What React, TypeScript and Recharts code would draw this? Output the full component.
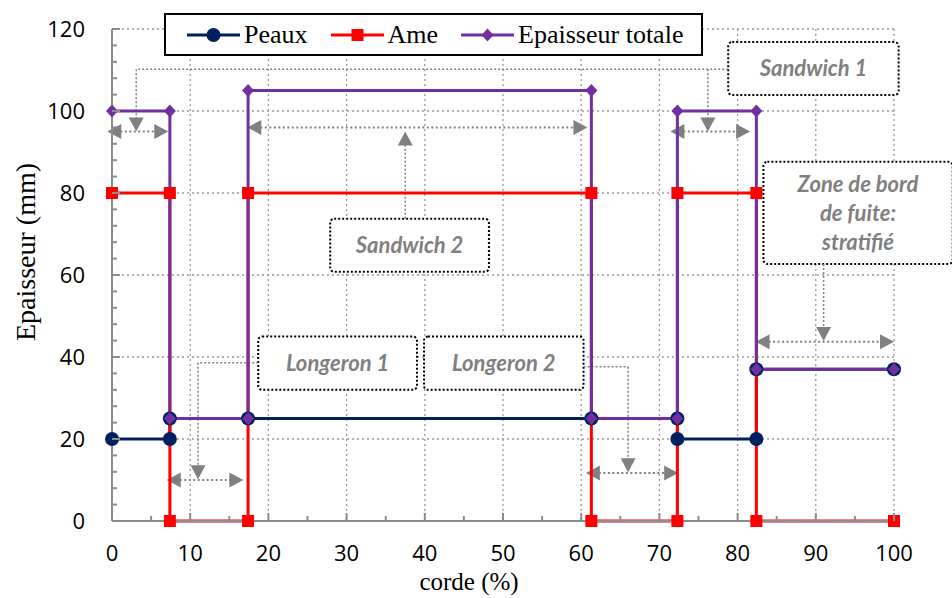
import React from 'react';
import {
  ComposedChart,
  Line,
  XAxis,
  YAxis,
  CartesianGrid,
  Legend,
  ReferenceArea,
  ReferenceLine,
} from 'recharts';

// --- data (corde %, epaisseur mm) ---
const peauxX = [0, 7.4, 7.4, 17.4, 61.3, 72.3, 72.3, 82.4, 82.4, 100];
const peauxY = [20, 20, 25, 25, 25, 25, 20, 20, 37, 37];

const ameX = [0, 7.4, 7.4, 17.4, 17.4, 61.3, 61.3, 72.3, 72.3, 82.4, 82.4, 100];
const ameY = [80, 80, 0, 0, 80, 80, 0, 0, 80, 80, 0, 0];

const totalX = [0, 7.4, 7.4, 17.4, 17.4, 61.3, 61.3, 72.3, 72.3, 82.4, 82.4, 100];
const totalY = [100, 100, 25, 25, 105, 105, 25, 25, 100, 100, 37, 37];

const xTicks = [0, 5, 10, 15, 20, 25, 30, 35, 40, 45, 50, 55, 60, 65, 70, 75, 80, 85, 90, 95, 100];
const yTicks = [0, 4, 8, 12, 16, 20, 24, 28, 32, 36, 40, 44, 48, 52, 56, 60, 64, 68, 72, 76, 80, 84, 88, 92, 96, 100, 104, 108, 112, 116, 120];
const xGrid = [0, 10, 20, 30, 40, 50, 60, 70, 80, 90, 100];
const yGrid = [0, 20, 40, 60, 80, 100, 120];

// annotation boxes (data coords)
const boxLabels = [['Sandwich 1'], ['Sandwich 2'], ['Longeron 1'], ['Longeron 2'], ['Zone de bord', 'de fuite:', 'stratifié']];
const boxX1 = [78.8, 27.9, 18.7, 39.9, 83.3];
const boxX2 = [100.6, 48.2, 39.0, 60.3, 107.5];
const boxYTop = [116.8, 73.7, 45.0, 45.0, 87.6];
const boxYBottom = [103.9, 60.8, 32.0, 32.0, 62.7];

// double arrows marking each zone
const spanX1 = [-0.6, 71.4, 17.3, 7.0, 60.6, 82.3];
const spanX2 = [7.2, 81.6, 60.8, 16.8, 72.4, 100];
const spanY = [95, 95, 96, 10, 11.7, 43.7];

// leader lines from boxes to arrows: [x1, y1, x2, y2, arrowhead]
const leaders: [number, number, number, number, boolean][] = [
  [78.8, 110.2, 3.1, 110.2, false],
  [3.1, 110.2, 3.1, 95, true],
  [76.2, 110.2, 76.2, 95, true],
  [37.5, 73.7, 37.5, 95, true],
  [18.7, 38.6, 11.0, 38.6, false],
  [11.0, 38.6, 11.0, 10.2, true],
  [60.3, 37.6, 66.0, 37.6, false],
  [66.0, 37.6, 66.0, 11.9, true],
  [91.0, 62.7, 91.0, 43.9, true],
];

const NAVY = '#002060';
const RED = '#FF0000';
const PURPLE = '#7030A0';
const AXIS = '#8c8c8c';
const ANNOT = '#808080';
const SERIF = '"Liberation Serif", "Times New Roman", serif';
const SANS = '"Open Sans", sans-serif';
const NOTE_FONT = 'Lato, "Open Sans", sans-serif';

const toPoints = (xs: number[], ys: number[]) => xs.map((x, i) => ({ x, y: ys[i] }));
const peauxData = toPoints(peauxX, peauxY);
const ameData = toPoints(ameX, ameY);
const totalData = toPoints(totalX, totalY);

const series = [
  { name: 'Peaux', color: NAVY, marker: 'circle' },
  { name: 'Ame', color: RED, marker: 'square' },
  { name: 'Epaisseur totale', color: PURPLE, marker: 'diamond' },
];

const marker = (kind: string, cx: number, cy: number, color: string, key?: string) => {
  if (kind === 'circle') return <circle key={key} cx={cx} cy={cy} r={7} fill={color} />;
  if (kind === 'square') return <rect key={key} x={cx - 6} y={cy - 6} width={12} height={12} fill={color} />;
  return (
    <polygon
      key={key}
      points={`${cx},${cy - 6.5} ${cx + 6},${cy} ${cx},${cy + 6.5} ${cx - 6},${cy}`}
      fill={color}
    />
  );
};

const dotFor = (kind: string, color: string) => (p: any) => {
  if (p.cx == null || p.cy == null) return <g key={`e-${p.index}`} />;
  return marker(kind, p.cx, p.cy, color, `${kind}-${p.index}`);
};

const XTick = (p: any) => {
  const v = p.payload.value;
  const major = v % 10 === 0;
  return (
    <g>
      <line x1={p.x} x2={p.x} y1={p.y} y2={p.y - (major ? 8 : 5)} stroke={AXIS} strokeWidth={2} />
      {major && (
        <text x={p.x} y={p.y + 40} textAnchor="middle" fontFamily={SANS} fontSize={22} fill="#000">
          {v}
        </text>
      )}
    </g>
  );
};

const YTick = (p: any) => {
  const v = p.payload.value;
  const major = v % 20 === 0;
  return (
    <g>
      <line x1={p.x} x2={p.x + (major ? 8 : 5)} y1={p.y} y2={p.y} stroke={AXIS} strokeWidth={2} />
      {major && (
        <text x={p.x - 27} y={p.y + 8} textAnchor="end" fontFamily={SANS} fontSize={22} fill="#000">
          {v}
        </text>
      )}
    </g>
  );
};

const head = (tx: number, ty: number, ux: number, uy: number) => {
  const L = 14;
  const W = 7.5;
  const bx = tx - ux * L;
  const by = ty - uy * L;
  return `${tx},${ty} ${bx - uy * W},${by + ux * W} ${bx + uy * W},${by - ux * W}`;
};

const arrowShape = (startHead: boolean, endHead: boolean, thin: boolean) => (p: any) => {
  const { x1, y1, x2, y2 } = p;
  const dx = x2 - x1;
  const dy = y2 - y1;
  const len = Math.hypot(dx, dy) || 1;
  const ux = dx / len;
  const uy = dy / len;
  const L = 13;
  const sx = startHead ? x1 + ux * L : x1;
  const sy = startHead ? y1 + uy * L : y1;
  const ex = endHead ? x2 - ux * L : x2;
  const ey = endHead ? y2 - uy * L : y2;
  return (
    <g>
      <line
        x1={sx}
        y1={sy}
        x2={ex}
        y2={ey}
        stroke={ANNOT}
        strokeWidth={thin ? 1.5 : 2}
        strokeDasharray={thin ? '2 2' : '2 2.5'}
      />
      {startHead && <polygon points={head(x1, y1, -ux, -uy)} fill={ANNOT} />}
      {endHead && <polygon points={head(x2, y2, ux, uy)} fill={ANNOT} />}
    </g>
  );
};

const boxShape = (p: any) => (
  <rect
    x={p.x}
    y={p.y}
    width={p.width}
    height={p.height}
    rx={4}
    fill="#fff"
    stroke="#000"
    strokeWidth={2}
    strokeDasharray="2 2"
  />
);

const boxLabel = (lines: string[]) => (p: any) => {
  const vb = p.viewBox;
  const cx = vb.x + vb.width / 2;
  const cy = vb.y + vb.height / 2;
  const lh = 29;
  const first = cy - ((lines.length - 1) * lh) / 2;
  return (
    <text
      textAnchor="middle"
      fontFamily={NOTE_FONT}
      fontStyle="italic"
      fontWeight="bold"
      fontSize={22}
      fill={ANNOT}
    >
      {lines.map((l, i) => (
        <tspan key={i} x={cx} y={first + i * lh} dy="0.36em">
          {l}
        </tspan>
      ))}
    </text>
  );
};

const LegendBox = () => (
  <div
    style={{
      boxSizing: 'border-box',
      width: '100%',
      height: '100%',
      border: '2px solid #000',
      background: '#fff',
      display: 'flex',
      alignItems: 'center',
      paddingLeft: 21,
      gap: 23,
      fontFamily: SERIF,
      fontSize: 26,
      color: '#000',
    }}
  >
    {series.map((s) => (
      <div key={s.name} style={{ display: 'flex', alignItems: 'center', gap: 4 }}>
        <svg width={53} height={20}>
          <line x1={0} x2={53} y1={10} y2={10} stroke={s.color} strokeWidth={3} />
          {marker(s.marker, 26.5, 10, s.color)}
        </svg>
        <span style={{ lineHeight: 1 }}>{s.name}</span>
      </div>
    ))}
  </div>
);

export default function App() {
  return (
    <div style={{ position: 'absolute', left: 0, top: 0, background: '#fff' }}>
      <ComposedChart width={952} height={598} margin={{ top: 29, right: 58, bottom: 47, left: 52 }}>
        <CartesianGrid
          stroke="#9a9a9a"
          strokeWidth={1.3}
          strokeDasharray="2 3"
          horizontalValues={yGrid}
          verticalValues={xGrid}
        />
        <XAxis
          type="number"
          dataKey="x"
          domain={[0, 100]}
          ticks={xTicks}
          interval={0}
          tickSize={0}
          tickMargin={0}
          tick={<XTick />}
          height={30}
          axisLine={{ stroke: AXIS, strokeWidth: 2 }}
          label={() => (
            <text x={469} y={590} textAnchor="middle" fontFamily={SERIF} fontSize={25} fill="#000">
              corde (%)
            </text>
          )}
        />
        <YAxis
          type="number"
          domain={[0, 120]}
          ticks={yTicks}
          interval={0}
          tickSize={0}
          tickMargin={0}
          tick={<YTick />}
          width={60}
          axisLine={{ stroke: AXIS, strokeWidth: 2 }}
          label={() => (
            <text
              x={25}
              y={252}
              transform="rotate(-90 25 252)"
              textAnchor="middle"
              dominantBaseline="central"
              fontFamily={SERIF}
              fontSize={28}
              fill="#000"
            >
              Epaisseur (mm)
            </text>
          )}
        />
        <Legend
          layout="horizontal"
          verticalAlign="middle"
          align="center"
          content={() => <LegendBox />}
          wrapperStyle={{ position: 'absolute', top: 13, left: 164, width: 539, height: 43 }}
        />

        {leaders.map(([x1, y1, x2, y2, h], i) => (
          <ReferenceLine
            key={`ld-${i}`}
            segment={[
              { x: x1, y: y1 },
              { x: x2, y: y2 },
            ]}
            ifOverflow="visible"
            shape={arrowShape(false, h, true)}
          />
        ))}
        {spanY.map((y, i) => (
          <ReferenceLine
            key={`sp-${i}`}
            segment={[
              { x: spanX1[i], y },
              { x: spanX2[i], y },
            ]}
            ifOverflow="visible"
            shape={arrowShape(true, true, false)}
          />
        ))}
        {boxLabels.map((lines, i) => (
          <ReferenceArea
            key={`bx-${i}`}
            x1={boxX1[i]}
            x2={boxX2[i]}
            y1={boxYBottom[i]}
            y2={boxYTop[i]}
            ifOverflow="visible"
            shape={boxShape}
            label={boxLabel(lines)}
          />
        ))}

        <Line
          data={peauxData}
          dataKey="y"
          name="Peaux"
          type="linear"
          stroke={NAVY}
          strokeWidth={3}
          dot={dotFor('circle', NAVY)}
          activeDot={false}
          isAnimationActive={false}
        />
        <Line
          data={ameData}
          dataKey="y"
          name="Ame"
          type="linear"
          stroke={RED}
          strokeWidth={3}
          dot={dotFor('square', RED)}
          activeDot={false}
          isAnimationActive={false}
        />
        <Line
          data={totalData}
          dataKey="y"
          name="Epaisseur totale"
          type="linear"
          stroke={PURPLE}
          strokeWidth={3}
          dot={dotFor('diamond', PURPLE)}
          activeDot={false}
          isAnimationActive={false}
        />
      </ComposedChart>
    </div>
  );
}
